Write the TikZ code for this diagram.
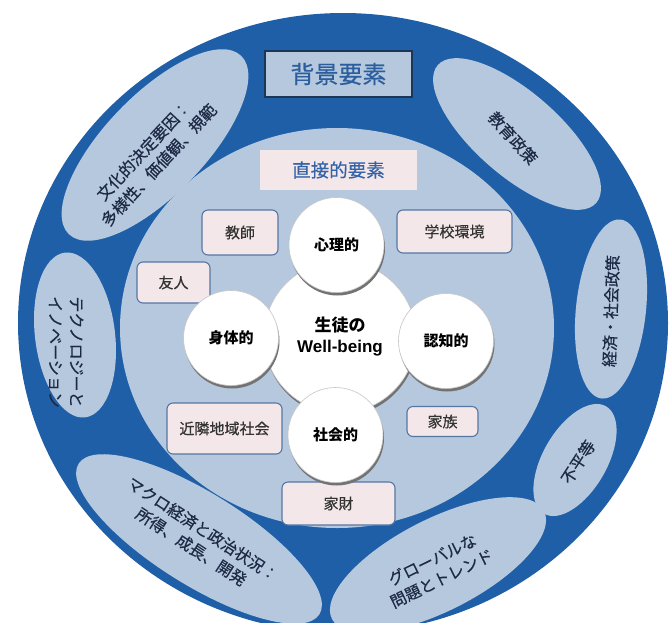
\documentclass[tikz,border=0pt]{standalone}
\usepackage{fontspec}
\setmainfont{Liberation Sans}
\newfontfamily\jp{Noto Sans CJK JP}
\newfontfamily\jpm[FakeBold=0.5]{Noto Sans CJK JP}
\usetikzlibrary{shapes.geometric,shadows}
\definecolor{dkblue}{HTML}{1F5FA8}
\definecolor{ltblue}{HTML}{B5C8DD}
\definecolor{pinkbg}{HTML}{F4E7EA}
\definecolor{boxline}{HTML}{5676A4}
\definecolor{inktxt}{HTML}{1E2A45}
\definecolor{navy}{HTML}{1C3655}
\definecolor{titleblue}{HTML}{2C5E9E}
\definecolor{directblue}{HTML}{3464A8}
\tikzset{
  ringel/.style={ellipse, fill=ltblue, inner sep=0pt},
  ringtxt/.style={font=\jpm\fontsize{16}{21}\selectfont, text=inktxt, align=center, inner sep=0pt},
  factor/.style={draw=boxline, line width=1.1pt, fill=pinkbg, rounded corners=6pt,
    font=\jpm\fontsize{15}{18}\selectfont, text=black!80, inner sep=0pt},
  bubble/.style={circle, fill=white, draw=gray!45, line width=0.6pt, inner sep=0pt,
    minimum size=95pt, align=center, font=\jp\bfseries\fontsize{15}{18}\selectfont,
    drop shadow={shadow xshift=1pt, shadow yshift=-3pt, fill=black!55, opacity=1}},
}
\begin{document}
\begin{tikzpicture}[x=1pt,y=-1pt]
\useasboundingbox (0,0) rectangle (669,622);
\fill[white] (0,0) rectangle (669,622);
% outer ring and inner disc
\node[ellipse, fill=dkblue, minimum width=650pt, minimum height=620pt, inner sep=0pt] (outer) at (343,323) {};
\node[ellipse, fill=ltblue, minimum width=434pt, minimum height=400pt, inner sep=0pt] (inner) at (337,328) {};
% background-factor ellipses
\node[ringel, minimum width=248pt, minimum height=100pt, rotate=46] (ecult) at (155,145) {};
\node[ringel, minimum width=210pt, minimum height=84pt, rotate=-41] (eedu) at (517,134) {};
\node[ringel, minimum width=180pt, minimum height=70pt, rotate=84] (eecon) at (611,309) {};
\node[ringel, minimum width=124pt, minimum height=64pt, rotate=60] (eineq) at (575,460) {};
\node[ringel, minimum width=238pt, minimum height=92pt, rotate=27] (eglob) at (438,565) {};
\node[ringel, minimum width=284pt, minimum height=92pt, rotate=-32] (emacro) at (199,539) {};
\node[ringel, minimum width=166pt, minimum height=80pt, rotate=97] (etech) at (75,335) {};
% texts of the ellipses
\node[ringtxt, rotate=47] (tcult) at (151,158) {文化的決定要因：\\多様性、価値観、規範};
\node[ringtxt, rotate=-48] (tedu) at (513,138) {教育政策};
\node[ringtxt, rotate=88] (tecon) at (611,311) {経済・社会政策};
\node[ringtxt, rotate=57] (tineq) at (578,462) {不平等};
\node[ringtxt, rotate=26] (tglob) at (437,569) {グローバルな\\問題とトレンド};
\node[ringtxt, rotate=-33] (tmacro) at (197,538) {マクロ経済と政治状況：\\所得、成長、開発};
\node[ringtxt, rotate=-90] (ttech) at (66,352) {テクノロジーと\\イノベーション};
% title boxes
\node[draw=navy, line width=1.5pt, fill=ltblue, minimum width=147pt, minimum height=46pt, inner sep=0pt,
  font=\jpm\fontsize{24}{28}\selectfont, text=titleblue] (bg) at (338.5,74) {背景要素};
\node[fill=pinkbg, minimum width=157pt, minimum height=40pt, inner sep=0pt,
  font=\jpm\fontsize{18.5}{22}\selectfont, text=directblue] (direct) at (338.5,170) {直接的要素};
% direct factors
\node[factor, minimum width=76pt, minimum height=45pt] (teacher) at (240,232.5) {教師};
\node[factor, minimum width=73pt, minimum height=41pt] (friend) at (173.5,282.5) {友人};
\node[factor, minimum width=115pt, minimum height=43pt] (school) at (454.5,231.5) {学校環境};
\node[factor, minimum width=115pt, minimum height=51pt] (community) at (224.5,428.5) {近隣地域社会};
\node[factor, minimum width=71pt, minimum height=30pt] (family) at (442.5,421.5) {家族};
\node[factor, minimum width=113pt, minimum height=43pt] (wealth) at (338.5,503.5) {家財};
% well-being bubbles
\node[bubble, minimum size=152pt, font=\bfseries\fontsize{17}{21}\selectfont] (core) at (340,337) {{\jp 生徒の}\\Well-being};
\node[bubble] (psy) at (336.5,245) {心理的};
\node[bubble] (phys) at (231,338) {身体的};
\node[bubble] (cog) at (446,341) {認知的};
\node[bubble] (soc) at (335.5,435) {社会的};
\end{tikzpicture}
\end{document}
